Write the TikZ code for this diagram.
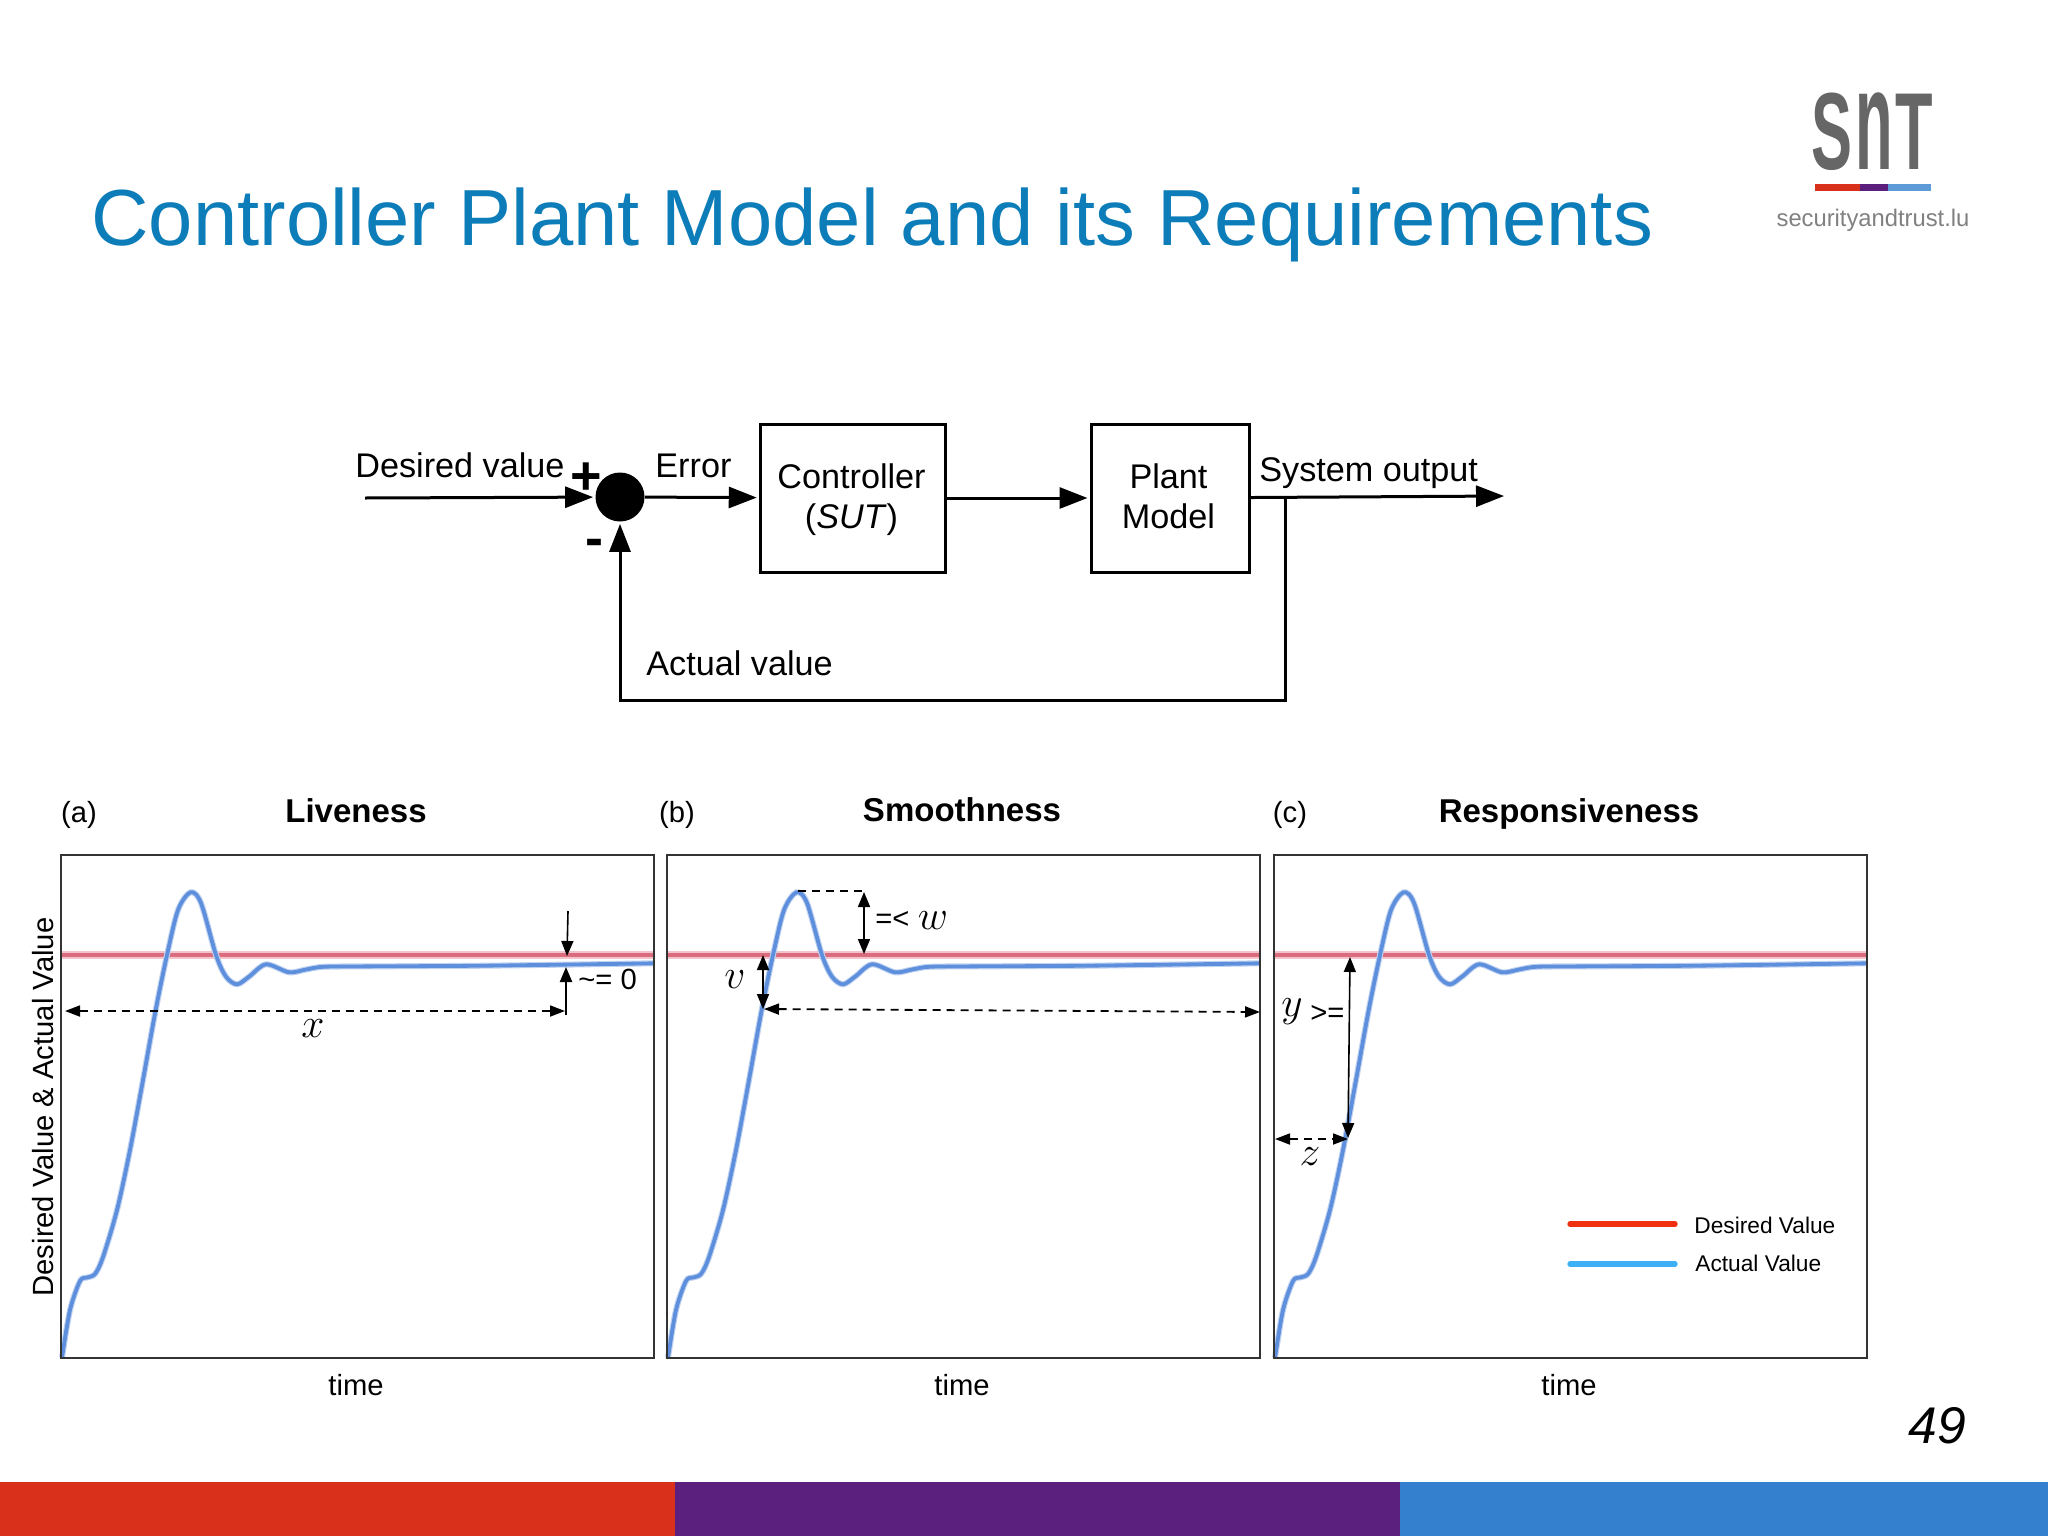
\documentclass[tikz,border=0pt]{standalone}
\usepackage{fontspec}
\setmainfont{Liberation Sans}
\usetikzlibrary{arrows.meta}
\definecolor{titleblue}{HTML}{0C7DB8}
\definecolor{bandred}{HTML}{D9301C}
\definecolor{bandpurple}{HTML}{5B1F7E}
\definecolor{bandblue}{HTML}{3480CF}
\definecolor{logogrey}{HTML}{666666}
\definecolor{redsoft}{HTML}{F3C4CC}
\definecolor{redcore}{HTML}{DA6C7E}
\definecolor{bluesoft}{HTML}{BFD2F0}
\definecolor{bluecore}{HTML}{5E8FDD}
\definecolor{legendred}{HTML}{F0300E}
\definecolor{legendblue}{HTML}{3DB0F5}
\newcommand{\actualpath}{plot[smooth] coordinates {(1,1357.7) (9,1310) (19,1281) (26,1277.5) (34,1274) (42,1257) (56,1210) (69,1150) (82,1080) (94.5,1011) (106,955) (117,910) (129.5,892.3) (140,903) (155,955) (165,976.7) (176,984.3) (188,976.7) (205,964.3) (228,972.3) (245,969.5) (262,966.8) (300,966.4) (422,965.7) (593,963.3)}}
\begin{document}
\begin{tikzpicture}[x=0.5pt,y=-0.5pt,
  block/.style = {draw,line width=1.5pt,align=center,inner sep=0pt,font=\fontsize{17.1}{20}\selectfont},
  blocktext/.style = {anchor=base west,inner sep=0pt,font=\fontsize{17.1}{20}\selectfont},
  signtext/.style = {anchor=center,inner sep=0pt,font=\fontsize{27}{27}\selectfont\bfseries},
  blockarrow/.style = {line width=1.5pt,-{Triangle[length=14pt,width=10.5pt]},shorten >=1pt},
  panelbox/.style = {draw=black!80,line width=1.3pt,anchor=north west,inner sep=0pt,outer sep=0pt,minimum width=296.5pt,minimum height=251.5pt},
  plottext/.style = {anchor=base,inner sep=0pt,font=\fontsize{14.6}{17}\selectfont},
  plottitle/.style = {anchor=base,inner sep=0pt,font=\fontsize{16.5}{20}\selectfont\bfseries},
  legendtext/.style = {anchor=base west,inner sep=0pt,font=\fontsize{11.35}{13}\selectfont},
  mathtext/.style = {anchor=center,inner sep=0pt,font=\fontsize{20.74}{24}\selectfont},
  thinarrow/.style = {line width=0.8pt,-{Triangle[length=7.5pt,width=6pt]}},
  bothheads/.style = {line width=0.8pt,{Triangle[length=7.5pt,width=6pt]}-{Triangle[length=7.5pt,width=6pt]}},
  dashheads/.style = {line width=0.9pt,dash pattern=on 4pt off 3pt,{Triangle[length=7.5pt,width=5.5pt]}-{Triangle[length=7.5pt,width=5.5pt]}}]
\useasboundingbox (0,0) rectangle (2048,1536);

\fill[bandred] (0,1482) rectangle (675,1536);
\fill[bandpurple] (675,1482) rectangle (1400,1536);
\fill[bandblue] (1400,1482) rectangle (2048,1536);

\node[anchor=base west,inner sep=0pt,text=titleblue,font=\fontsize{39.8}{44}\selectfont] (title) at (91,245) {Controller Plant Model and its Requirements};
\node[anchor=base west,inner sep=0pt,font=\fontsize{25.8}{30}\selectfont\itshape] (pagenum) at (1908,1443) {49};

\node[anchor=base,inner sep=0pt,text=logogrey,xscale=.56,font=\fontsize{54.8}{60}\selectfont\bfseries] (snt) at (1872,169.5) {S\kern.05em\scalebox{1}[1.3]{n}\kern.05em T};
\fill[bandred] (1815,183.5) rectangle (1860,190.5);
\fill[bandpurple] (1860,183.5) rectangle (1888,190.5);
\fill[bandblue!80] (1888,183.5) rectangle (1931,190.5);
\node[anchor=base,inner sep=0pt,text=black!50,xscale=.99,font=\fontsize{12}{14}\selectfont] (sntweb) at (1873,226) {securityandtrust.lu};

\node[circle,fill=black,inner sep=0pt,minimum size=24.5pt] (sum) at (620,497) {};
\node[block,minimum width=92.75pt,minimum height=74pt] (ctrl) at (853,498) {\rule{0pt}{14.3pt}Controller\hspace*{1.5pt}\\(\textit{SUT})\hspace*{1.5pt}};
\node[block,minimum width=79pt,minimum height=74pt] (plant) at (1170,498) {\rule{0pt}{14.3pt}Plant\hspace*{1.5pt}\\Model\vphantom{()}\hspace*{1.5pt}};
\coordinate (desired) at (365,498);
\coordinate (sysout) at (1506,496);
\coordinate (branch) at (1285,497.5);
\coordinate (fbcorner) at (620,700);

\draw[blockarrow] (desired) -- (sum);
\draw[blockarrow] (sum) -- (ctrl);
\draw[blockarrow] (ctrl) -- (plant);
\draw[blockarrow] (plant) -- (sysout);
\draw[blockarrow] (branch) |- (fbcorner) -- (sum);

\node[blocktext] (desiredtxt) at (355,477) {Desired value};
\node[blocktext] (errortxt) at (655,477) {Error};
\node[blocktext] (outputtxt) at (1259,481) {System output};
\node[blocktext] (actualtxt) at (646,675) {Actual value};
\node[signtext] (plus) at (586,479) {+};
\node[signtext] (minus) at (594,548) {-};

\foreach \px in {61,667,1274}{
  \begin{scope}[shift={(\px,0)}]
    \draw[redsoft,line width=4pt] (0,955) -- (593,955);
    \draw[redcore,line width=2.4pt] (0,955) -- (593,955);
    \draw[bluesoft,line width=3pt] \actualpath;
    \draw[bluecore,line width=1.9pt] \actualpath;
  \end{scope}
}

\node[panelbox] (panela) at (61,855) {};
\node[panelbox] (panelb) at (667,855) {};
\node[panelbox] (panelc) at (1274,855) {};

\node[plottext] (taga) at (79,822) {(a)};
\node[plottext] (tagb) at (677,822) {(b)};
\node[plottext] (tagc) at (1290,822) {(c)};
\node[plottitle] (livetxt) at (356,822) {Liveness};
\node[plottitle] (smoothtxt) at (962,821) {Smoothness};
\node[plottitle] (resptxt) at (1569,822) {Responsiveness};
\node[plottext] (timea) at (356,1395) {time};
\node[plottext] (timeb) at (962,1395) {time};
\node[plottext] (timec) at (1569,1395) {time};
\node[plottext,rotate=90] (ylabel) at (53,1107) {Desired Value \& Actual Value};

\coordinate (la) at (568,911);
\coordinate (lb) at (567,956);
\coordinate (lc) at (566,1015);
\coordinate (ld) at (566,967);
\coordinate (le) at (565,1011);
\coordinate (lf) at (65,1011);
\draw[thinarrow] (la) -- (lb);
\draw[thinarrow,line width=1.1pt] (lc) -- (ld);
\draw[dashheads] (lf) -- (le);
\node[mathtext] (xtxt) at (313,1029) {$x$};
\node[plottext,anchor=base west] (zerotxt) at (578,989) {\textasciitilde= 0};

\coordinate (sa) at (798,891);
\coordinate (sb) at (862,891);
\coordinate (sc) at (864,892);
\coordinate (sd) at (864,954);
\coordinate (se) at (763,955);
\coordinate (sf) at (763,1009);
\coordinate (sg) at (764,1009);
\coordinate (sh) at (1260,1012);
\draw[line width=0.8pt,dash pattern=on 4pt off 3pt] (sa) -- (sb);
\draw[bothheads] (sc) -- (sd);
\draw[bothheads] (se) -- (sf);
\draw[dashheads] (sg) -- (sh);
\node[plottext,anchor=base west] (wtxt) at (875,928) {=<};
\node[mathtext] (wmath) at (933,921) {$w$};
\node[mathtext] (vmath) at (735,980) {$v$};

\coordinate (ra) at (1350,957);
\coordinate (rb) at (1348,1138);
\coordinate (rc) at (1275,1139);
\coordinate (rd) at (1348,1139);
\draw[bothheads] (ra) -- (rb);
\draw[dashheads] (rc) -- (rd);
\node[mathtext] (ymath) at (1292,1012) {$y$};
\node[plottext,anchor=base west] (ytxt) at (1310,1022) {>=};
\node[mathtext] (zmath) at (1310,1157) {$z$};

\coordinate (lega) at (1570,1224);
\coordinate (legb) at (1675,1224);
\coordinate (legc) at (1570,1264);
\coordinate (legd) at (1675,1264);
\draw[legendred,line width=2.7pt,line cap=round] (lega) -- (legb);
\draw[legendblue,line width=2.7pt,line cap=round] (legc) -- (legd);
\node[legendtext] (legdesired) at (1694,1233) {Desired Value};
\node[legendtext] (legactual) at (1695,1271) {Actual Value};
\end{tikzpicture}
\end{document}
